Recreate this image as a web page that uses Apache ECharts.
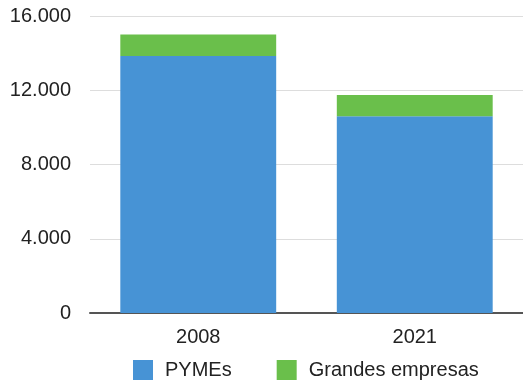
<!DOCTYPE html>
<html>
<head>
<meta charset="utf-8">
<script src="https://cdn.jsdelivr.net/npm/echarts@6/dist/echarts.min.js"></script>
<style>
  html, body { margin: 0; padding: 0; background: #fff; }
  #chart { width: 523px; height: 384px; }
</style>
</head>
<body>
<div id="chart"></div>
<script>
const years = ['2008', '2021']
const pymes = [13850, 10600]
const grandes = [1150, 1150]

const fmt = v => v === 0 ? '0' : v.toLocaleString('de-DE')
const font = 'Liberation Sans, Arial, Helvetica, sans-serif'

const chart = echarts.init(document.getElementById('chart'))
chart.setOption({
  animation: false,
  textStyle: { fontFamily: font },
  grid: { left: 90, right: 0, top: 16, bottom: 71 },
  legend: {
    left: 128,
    top: 355,
    itemWidth: 20,
    itemHeight: 20,
    itemGap: 45,
    icon: 'rect',
    textStyle: { fontSize: 20, color: '#222', fontFamily: font, padding: [0, 0, 0, 7] },
    data: ['PYMEs', 'Grandes empresas']
  },
  xAxis: {
    type: 'category',
    data: years,
    axisTick: { show: false },
    axisLine: { lineStyle: { color: '#555', width: 2 } },
    axisLabel: { fontSize: 20, color: '#222', margin: 14 }
  },
  yAxis: {
    type: 'value',
    min: 0,
    max: 16000,
    interval: 4000,
    axisLabel: { fontSize: 20, color: '#222', margin: 19, formatter: fmt },
    splitLine: { lineStyle: { color: '#ddd' } }
  },
  series: [
    {
      name: 'PYMEs',
      type: 'bar',
      stack: 'total',
      barWidth: '72%',
      itemStyle: { color: '#4793d5' },
      data: pymes
    },
    {
      name: 'Grandes empresas',
      type: 'bar',
      stack: 'total',
      itemStyle: { color: '#6abf4b' },
      data: grandes
    }
  ]
})
</script>
</body>
</html>
